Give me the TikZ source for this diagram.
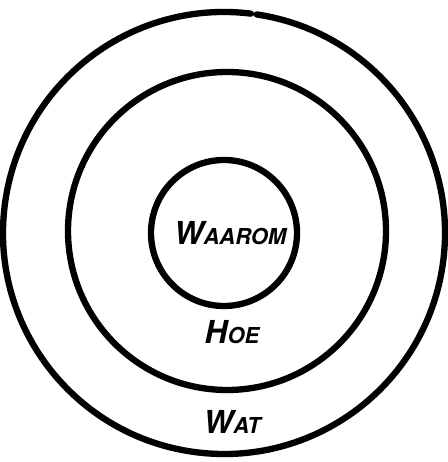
\documentclass[tikz,border=0pt]{standalone}
\usepackage{fontspec}
\setmainfont{TeX Gyre Heros}
\usetikzlibrary{positioning}

% big first letter, smaller capitals after it
\newcommand{\capword}[2]{{\fontsize{18}{18}\selectfont #1}{\fontsize{12.5}{12.5}\selectfont #2}}

\begin{document}
\begin{tikzpicture}[
    x=0.02cm, y=0.02cm,
    % Define styles for rings and labels
    ring/.style={line width=3.6pt, draw=black, line cap=round},
    ringlabel/.style={font=\bfseries\itshape, text=black, inner sep=0pt},
]

\useasboundingbox (0,0) rectangle (448,462);

% -------------------------
% Rings
% -------------------------
\draw[ring] (224,229) ++(83:221) arc[start angle=83, end angle=441.5, radius=221];
\draw[ring] (227,231) circle[radius=159];
\draw[ring] (224,229) circle[radius=73];

% -------------------------
% Labels
% -------------------------
\node (waarom) [ringlabel] at (230,229) {\capword{W}{AAROM}};
\node (hoe) [ringlabel] at (232,130) {\capword{H}{OE}};
\node (wat) [ringlabel] at (232,40) {\capword{W}{AT}};

\end{tikzpicture}
\end{document}
